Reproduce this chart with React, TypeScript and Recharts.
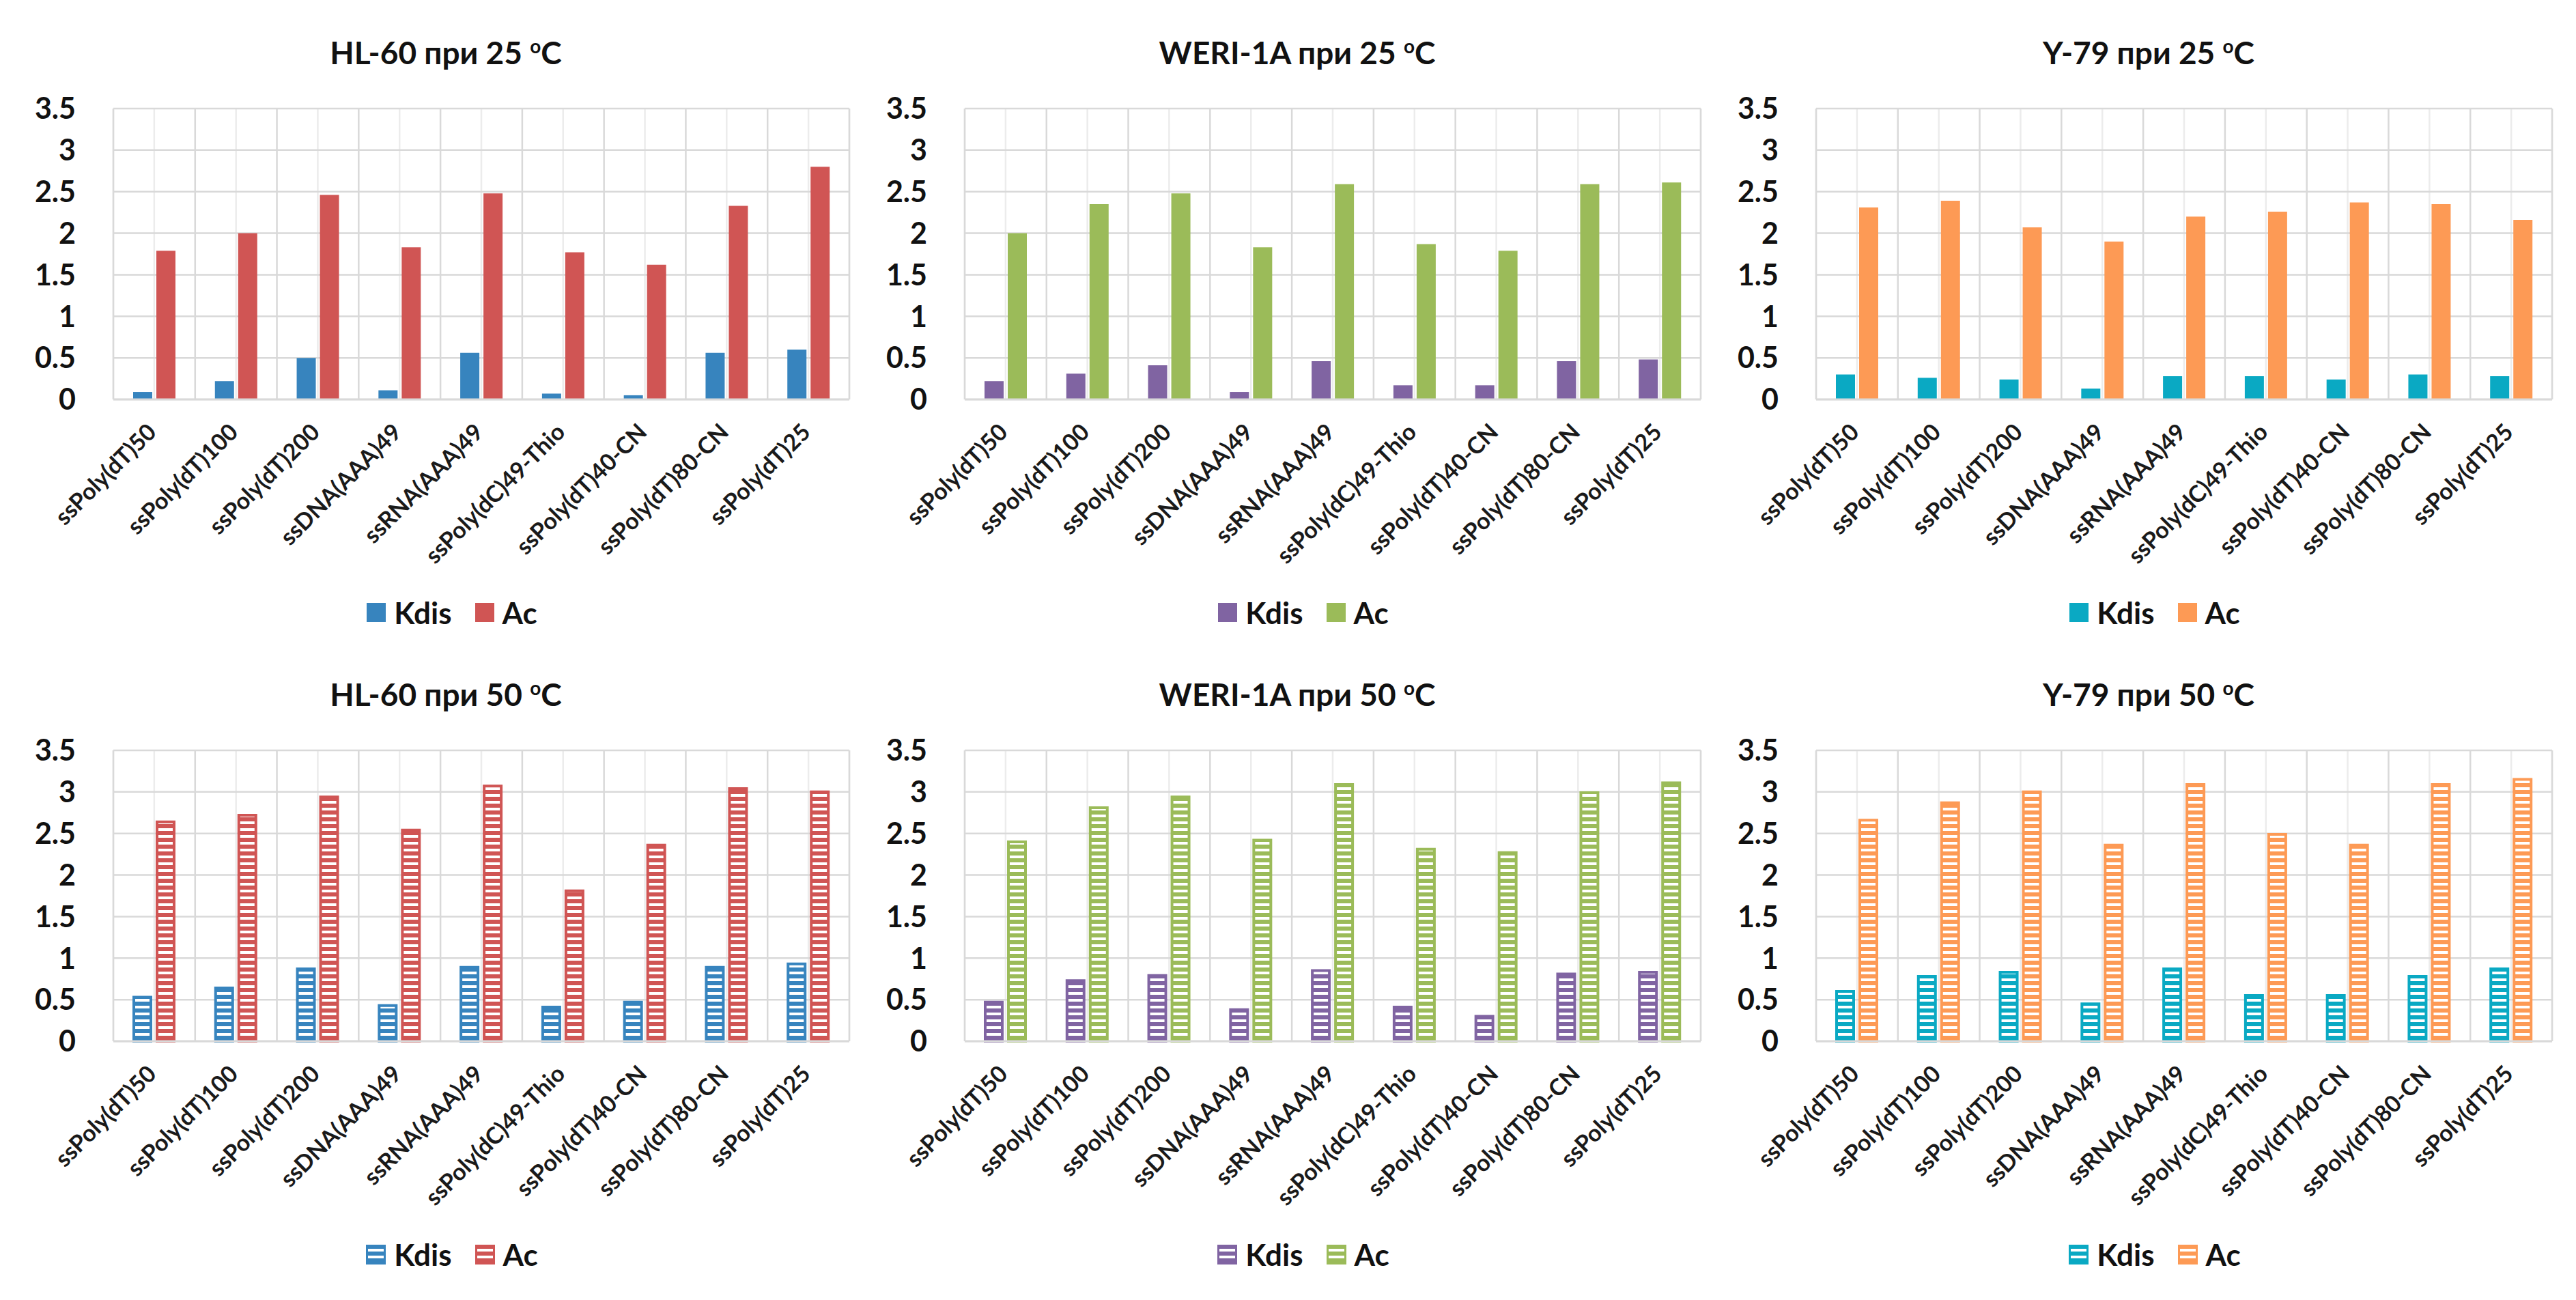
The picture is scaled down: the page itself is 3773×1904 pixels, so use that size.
import React from "react";
import {
  BarChart,
  Bar,
  XAxis,
  YAxis,
  CartesianGrid,
  Legend,
} from "recharts";

const categories = [
  "ssPoly(dT)50",
  "ssPoly(dT)100",
  "ssPoly(dT)200",
  "ssDNA(AAA)49",
  "ssRNA(AAA)49",
  "ssPoly(dC)49-Thio",
  "ssPoly(dT)40-CN",
  "ssPoly(dT)80-CN",
  "ssPoly(dT)25",
];

const yTicks = [0, 0.5, 1, 1.5, 2, 2.5, 3, 3.5];

const hl60Kdis25 = [0.09, 0.22, 0.5, 0.11, 0.56, 0.07, 0.05, 0.56, 0.6];
const hl60Ac25 = [1.79, 2.0, 2.46, 1.83, 2.48, 1.77, 1.62, 2.33, 2.8];
const weriKdis25 = [0.22, 0.31, 0.41, 0.09, 0.46, 0.17, 0.17, 0.46, 0.48];
const weriAc25 = [2.0, 2.35, 2.48, 1.83, 2.59, 1.87, 1.79, 2.59, 2.61];
const y79Kdis25 = [0.3, 0.26, 0.24, 0.13, 0.28, 0.28, 0.24, 0.3, 0.28];
const y79Ac25 = [2.31, 2.39, 2.07, 1.9, 2.2, 2.26, 2.37, 2.35, 2.16];

const hl60Kdis50 = [0.53, 0.64, 0.87, 0.43, 0.89, 0.41, 0.47, 0.89, 0.93];
const hl60Ac50 = [2.64, 2.72, 2.94, 2.54, 3.07, 1.81, 2.36, 3.04, 3.0];
const weriKdis50 = [0.47, 0.73, 0.79, 0.38, 0.85, 0.41, 0.3, 0.81, 0.83];
const weriAc50 = [2.4, 2.81, 2.94, 2.42, 3.09, 2.31, 2.27, 2.99, 3.11];
const y79Kdis50 = [0.6, 0.78, 0.83, 0.45, 0.87, 0.55, 0.55, 0.78, 0.87];
const y79Ac50 = [2.66, 2.87, 3.0, 2.36, 3.09, 2.49, 2.36, 3.09, 3.15];

const FONT = "Lato, 'Open Sans', sans-serif";
const GRID = "#d9d9d9";
const GRID_MINOR = "#ececec";

const panels = [
  { id: "hl25", cell: "HL-60", temp: "25", kdis: hl60Kdis25, ac: hl60Ac25, kdisColor: "#3784be", acColor: "#d05554", hatched: false, col: 0, row: 0 },
  { id: "we25", cell: "WERI-1A", temp: "25", kdis: weriKdis25, ac: weriAc25, kdisColor: "#8064a2", acColor: "#9bbb59", hatched: false, col: 1, row: 0 },
  { id: "y25", cell: "Y-79", temp: "25", kdis: y79Kdis25, ac: y79Ac25, kdisColor: "#0aa9c3", acColor: "#fd9a55", hatched: false, col: 2, row: 0 },
  { id: "hl50", cell: "HL-60", temp: "50", kdis: hl60Kdis50, ac: hl60Ac50, kdisColor: "#3784be", acColor: "#d05554", hatched: true, col: 0, row: 1 },
  { id: "we50", cell: "WERI-1A", temp: "50", kdis: weriKdis50, ac: weriAc50, kdisColor: "#8064a2", acColor: "#9bbb59", hatched: true, col: 1, row: 1 },
  { id: "y50", cell: "Y-79", temp: "50", kdis: y79Kdis50, ac: y79Ac50, kdisColor: "#0aa9c3", acColor: "#fd9a55", hatched: true, col: 2, row: 1 },
];

const colLeft = [11, 1258, 2505];
const rowTop = [0, 940];
const W = 1245;
const H = 950;

function CategoryTick({ x, y, payload }: any) {
  const ax = x + 5;
  const ay = y + 50;
  return (
    <text
      x={ax}
      y={ay}
      textAnchor="end"
      transform={`rotate(-45, ${ax}, ${ay})`}
      fontFamily={FONT}
      fontWeight={700}
      fontSize={34}
      fill="#1a1a1a"
    >
      {payload.value}
    </text>
  );
}

function swatchStyle(color: string, hatched: boolean): React.CSSProperties {
  if (!hatched) return { width: 28, height: 28, background: color };
  return {
    width: 23,
    height: 23,
    border: `3px solid ${color}`,
    background: `repeating-linear-gradient(to bottom, ${color} 0px, ${color} 3px, #fff 3px, #fff 7px, ${color} 7px, ${color} 10px)`,
  };
}

function Panel({ p }: { p: (typeof panels)[number] }) {
  const data = categories.map((name, i) => ({ name, Kdis: p.kdis[i], Ac: p.ac[i] }));
  const kdisPat = `stripe-${p.id}-kdis`;
  const acPat = `stripe-${p.id}-ac`;

  const boundaries = ({ offset }: any) =>
    Array.from({ length: categories.length + 1 }, (_, i) => offset.left + (i * offset.width) / categories.length);

  const renderLegend = () => (
    <div
      style={{
        height: 50,
        display: "flex",
        alignItems: "center",
        justifyContent: "center",
        paddingLeft: 69,
        fontFamily: FONT,
        fontWeight: 700,
        fontSize: 44,
        color: "#111",
      }}
    >
      <div style={swatchStyle(p.kdisColor, p.hatched)} />
      <span style={{ marginLeft: 12, marginRight: 34 }}>Kdis</span>
      <div style={swatchStyle(p.acColor, p.hatched)} />
      <span style={{ marginLeft: 12 }}>Ac</span>
    </div>
  );

  return (
    <div style={{ position: "absolute", left: colLeft[p.col], top: rowTop[p.row], width: W, height: H }}>
      <div
        style={{
          position: "absolute",
          left: 0,
          top: 50,
          width: 1284,
          textAlign: "center",
          fontFamily: FONT,
          fontWeight: 700,
          fontSize: 46,
          lineHeight: "54px",
          color: "#111",
        }}
      >
        {p.cell} при {p.temp} <span style={{ fontSize: 28, position: "relative", top: -16 }}>o</span>C
      </div>
      <BarChart
        width={W}
        height={H}
        data={data}
        margin={{ top: 159, right: 12, left: 0, bottom: 28 }}
        barGap={p.hatched ? 9 : 6}
        barSize={p.hatched ? 25 : 28}
      >
        <defs>
          <pattern id={kdisPat} patternUnits="userSpaceOnUse" width={10} height={10}>
            <rect width={10} height={10} fill={p.kdisColor} />
            <rect y={3} width={10} height={4} fill="#ffffff" />
          </pattern>
          <pattern id={acPat} patternUnits="userSpaceOnUse" width={10} height={10}>
            <rect width={10} height={10} fill={p.acColor} />
            <rect y={3} width={10} height={4} fill="#ffffff" />
          </pattern>
        </defs>
        <CartesianGrid horizontal={false} stroke={GRID_MINOR} strokeWidth={2.5} />
        <CartesianGrid
          stroke={GRID}
          strokeWidth={2.5}
          verticalCoordinatesGenerator={boundaries}
        />
        <XAxis
          dataKey="name"
          interval={0}
          height={287}
          tickLine={false}
          tickSize={0}
          tickMargin={0}
          axisLine={{ stroke: GRID, strokeWidth: 3 }}
          tick={<CategoryTick />}
        />
        <YAxis
          type="number"
          domain={[0, 3.5]}
          ticks={yTicks}
          width={155}
          axisLine={false}
          tickLine={false}
          tickSize={0}
          tickMargin={55}
          tick={{ fontFamily: FONT, fontWeight: 700, fontSize: 43, fill: "#111" }}
        />
        <Legend verticalAlign="bottom" height={50} content={renderLegend} />
        <Bar
          dataKey="Kdis"
          fill={p.hatched ? `url(#${kdisPat})` : p.kdisColor}
          stroke={p.hatched ? p.kdisColor : "none"}
          strokeWidth={p.hatched ? 4 : 0}
          isAnimationActive={false}
        />
        <Bar
          dataKey="Ac"
          fill={p.hatched ? `url(#${acPat})` : p.acColor}
          stroke={p.hatched ? p.acColor : "none"}
          strokeWidth={p.hatched ? 4 : 0}
          isAnimationActive={false}
        />
      </BarChart>
    </div>
  );
}

export default function App() {
  return (
    <div style={{ position: "absolute", left: 0, top: 0, width: 3773, height: 1904, background: "#ffffff" }}>
      {panels.map((p) => (
        <Panel key={p.id} p={p} />
      ))}
    </div>
  );
}
